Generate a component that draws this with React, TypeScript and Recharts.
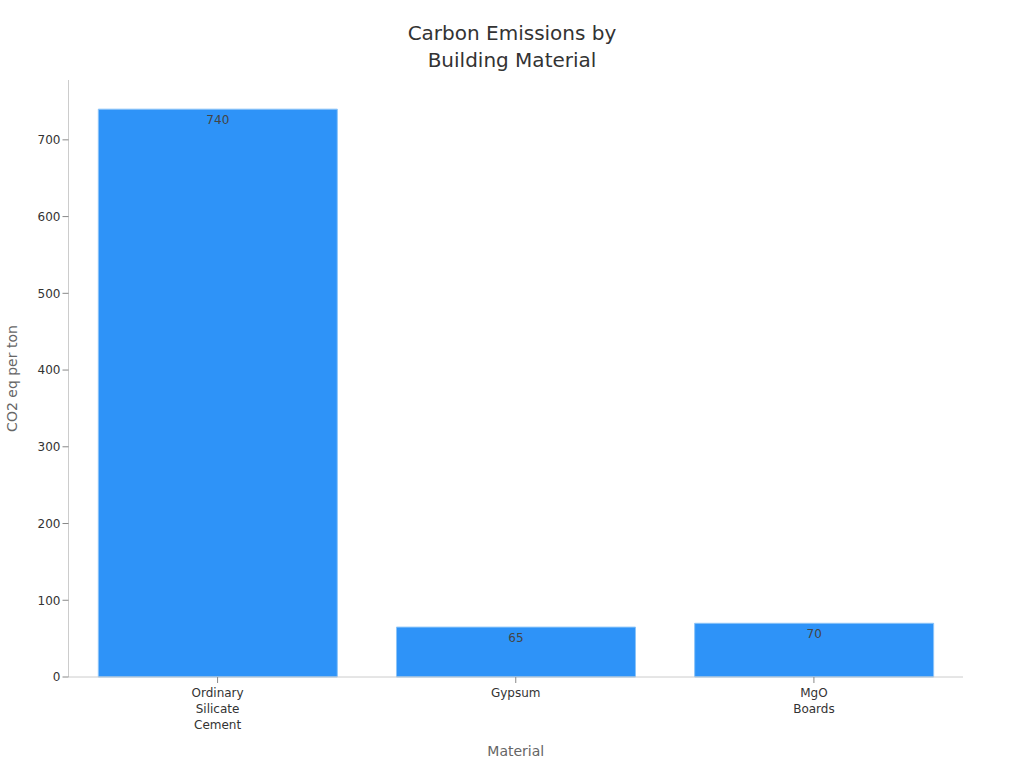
import React from "react";
import { BarChart, Bar, XAxis, YAxis, LabelList } from "recharts";

const categories = ["Ordinary Silicate Cement", "Gypsum", "MgO Boards"];
const emissions = [740, 65, 70];
const yTicks = [0, 100, 200, 300, 400, 500, 600, 700];

const data = categories.map((c, i) => ({ material: c, value: emissions[i] }));

const FONT = "'DejaVu Sans', Verdana, sans-serif";

const XTick = (props: any) => {
  const { x, y, payload } = props;
  const lines = String(payload.value).split(" ");
  return (
    <g transform={`translate(${x},${y})`}>
      <text textAnchor="middle" fill="#333" fontSize={12} fontFamily={FONT}>
        {lines.map((l: string, i: number) => (
          <tspan key={i} x={0} dy={i === 0 ? 12 : 16}>
            {l}
          </tspan>
        ))}
      </text>
    </g>
  );
};

export default function App() {
  return (
    <div style={{ position: "absolute", left: 0, top: 0, width: 1024, height: 768, background: "#fff", fontFamily: FONT }}>
      <div
        style={{
          position: "absolute",
          top: 20,
          left: 0,
          width: 1024,
          textAlign: "center",
          fontSize: 20,
          lineHeight: "27px",
          color: "#333",
          fontFamily: FONT,
        }}
      >
        Carbon Emissions by
        <br />
        Building Material
      </div>
      <BarChart
        width={1024}
        height={768}
        data={data}
        margin={{ top: 80, right: 61, left: 0.5, bottom: 0 }}
        barCategoryGap="10%"
      >
        <XAxis
          dataKey="material"
          height={91}
          tick={<XTick />}
          axisLine={{ stroke: "#ccc" }}
          tickLine={{ stroke: "#888" }}
          interval={0}
          label={{ value: "Material", position: "insideBottom", offset: 12, fill: "#666", fontSize: 14, fontFamily: FONT }}
        />
        <YAxis
          width={68}
          domain={[0, 778]}
          ticks={yTicks}
          axisLine={{ stroke: "#ccc" }}
          tickLine={{ stroke: "#888" }}
          tick={{ fill: "#333", fontSize: 12, fontFamily: FONT }}
          label={{
            value: "CO2 eq per ton",
            angle: -90,
            position: "insideLeft",
            offset: 12,
            style: { textAnchor: "middle" },
            fill: "#666",
            fontSize: 14,
            fontFamily: FONT,
          }}
        />
        <Bar dataKey="value" fill="#2E93F8" stroke="#8cc4f8" strokeWidth={1} isAnimationActive={false}>
          <LabelList dataKey="value" position="insideTop" offset={6} fill="#444" fontSize={12} fontFamily={FONT} />
        </Bar>
      </BarChart>
    </div>
  );
}
